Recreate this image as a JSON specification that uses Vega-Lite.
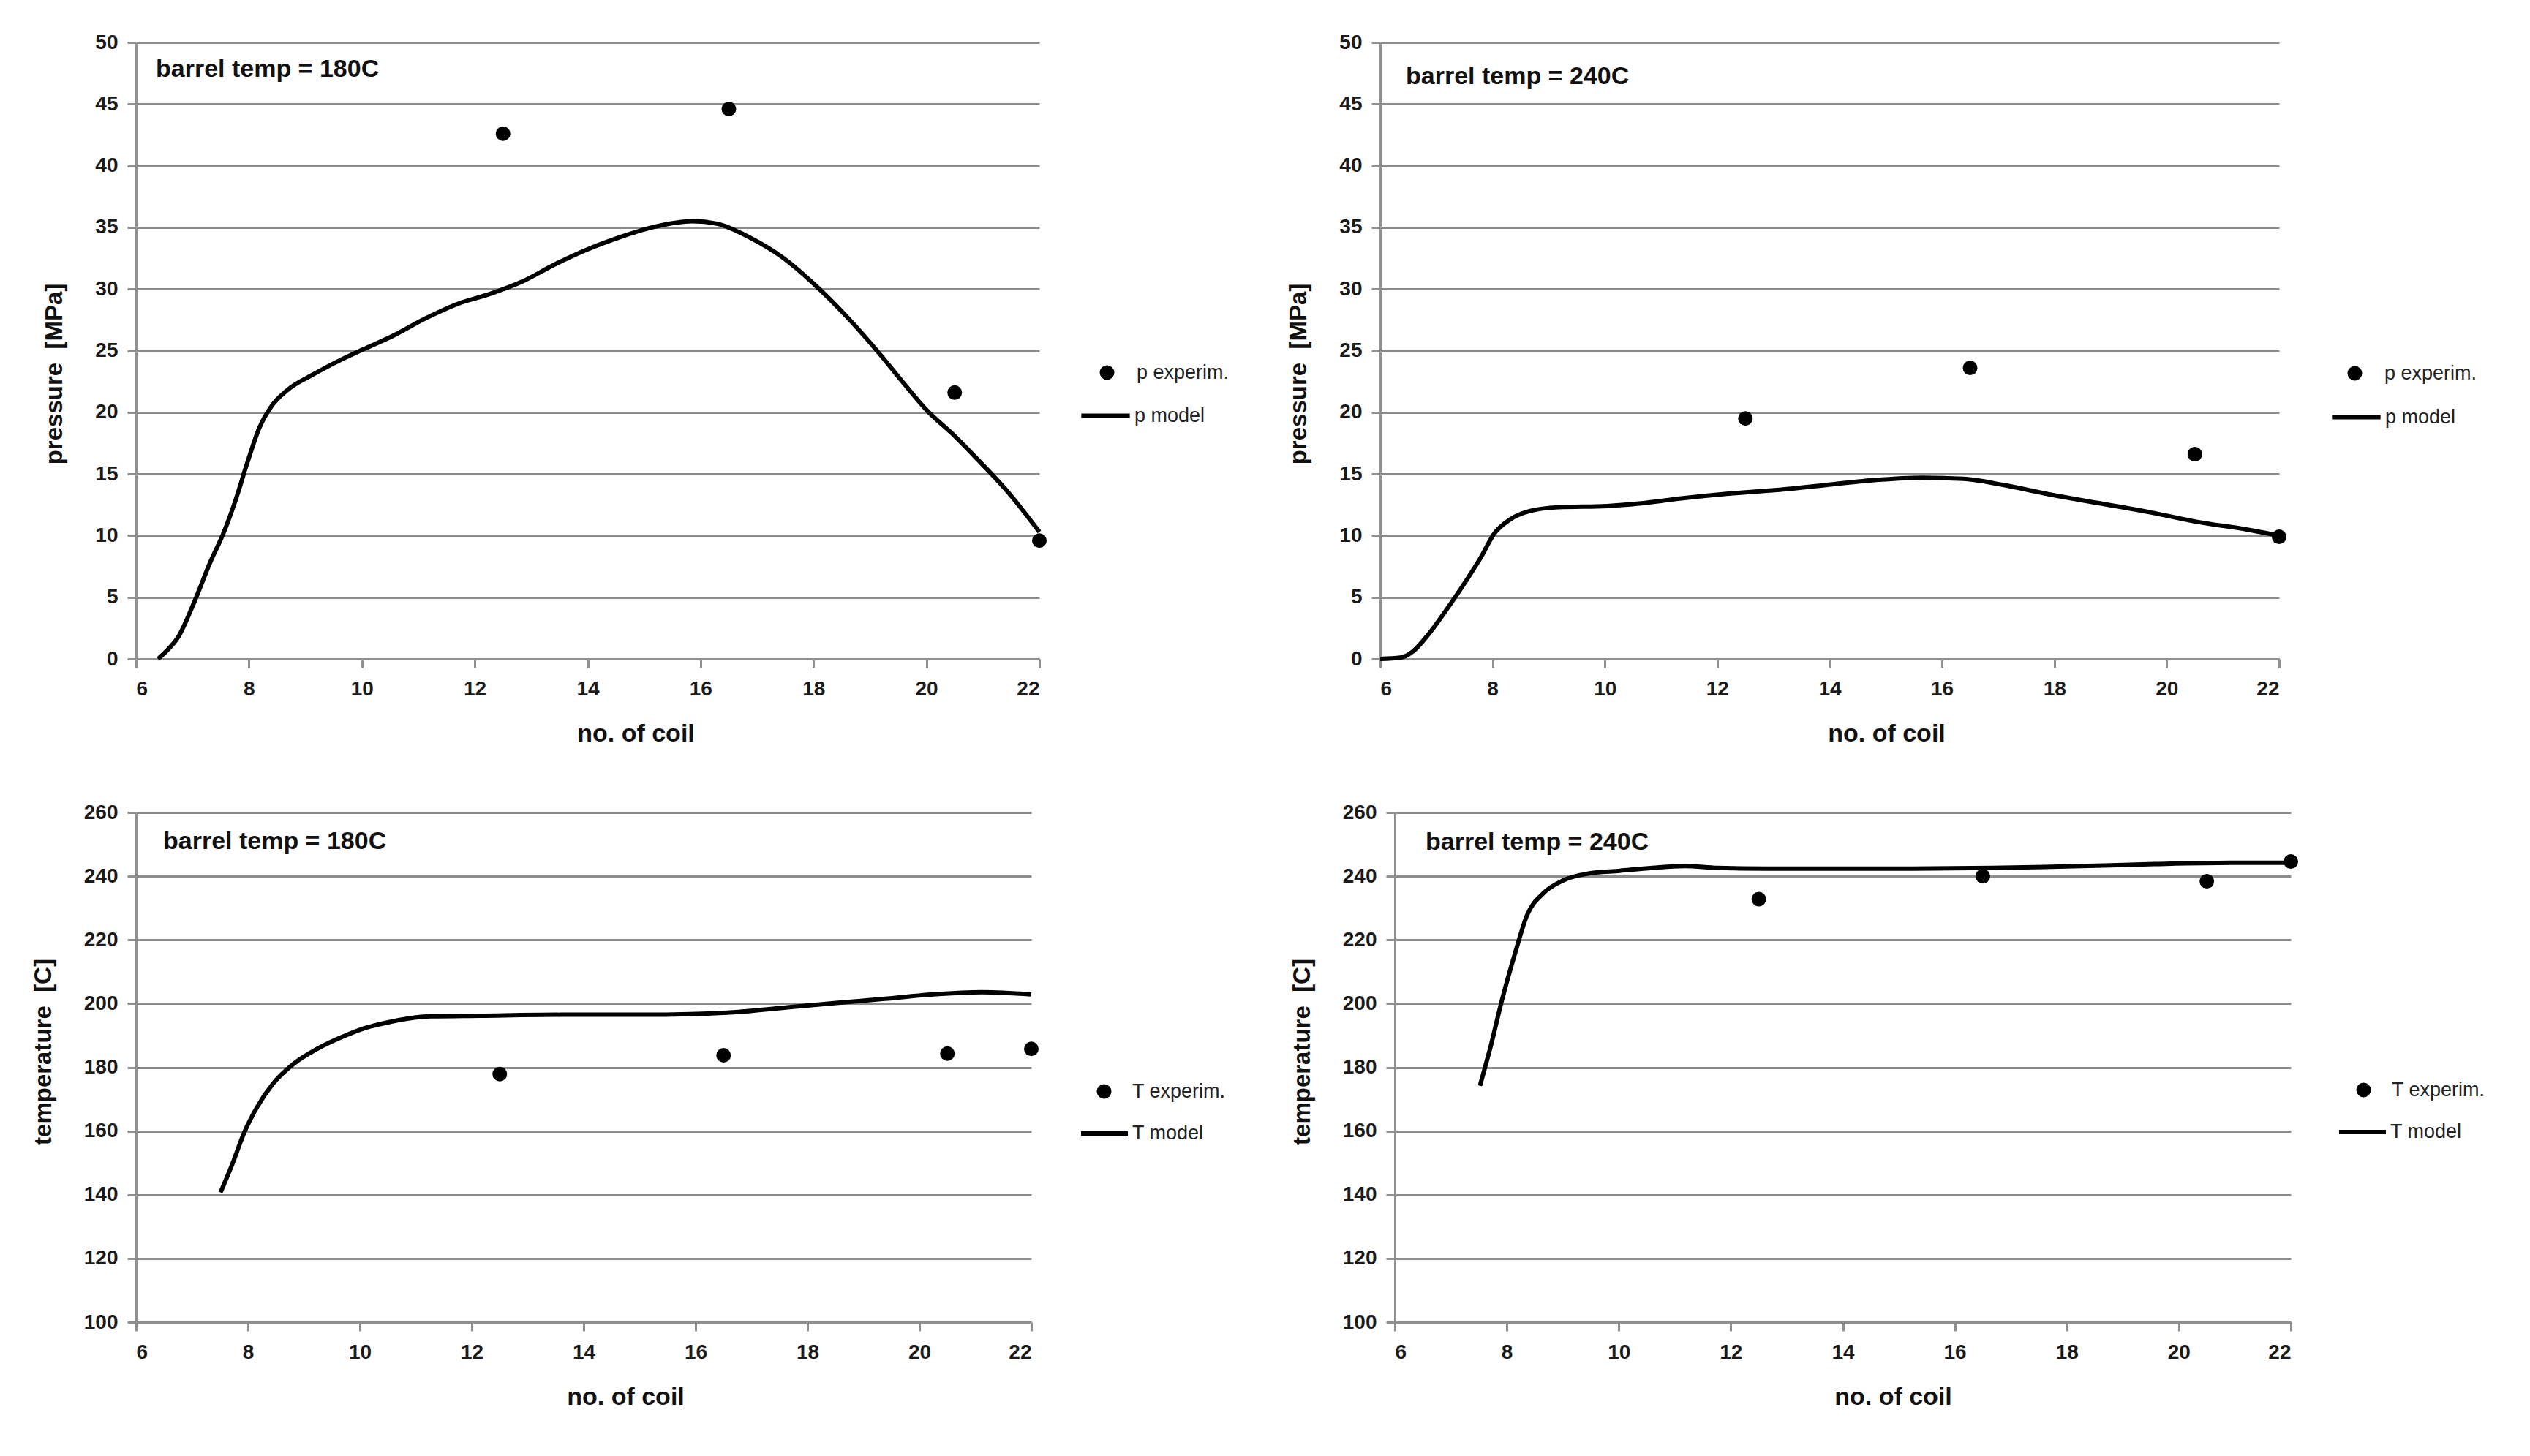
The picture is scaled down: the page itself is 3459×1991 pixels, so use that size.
{
  "$schema": "https://vega.github.io/schema/vega-lite/v6.json",
  "background": "white",
  "padding": {"left": 43, "top": 44, "right": 10, "bottom": 10},
  "spacing": 77,
  "align": "none",
  "resolve": {"scale": {"shape": "independent", "color": "independent"}, "legend": {"shape": "independent", "color": "independent"}},
  "config": {
    "view": {"stroke": null},
    "font": "Liberation Sans",
    "axis": {
      "labelFont": "Liberation Sans", "labelFontSize": 28, "labelFontWeight": "bold", "labelColor": "#1a1a1a",
      "titleFont": "Liberation Sans", "titleFontWeight": "bold", "titleFontSize": 33, "titleColor": "#111111",
      "domainColor": "#909090", "domainWidth": 3,
      "tickColor": "#909090", "tickWidth": 3, "tickSize": 12,
      "gridColor": "#8c8c8c", "gridWidth": 3, "gridOpacity": 1
    },
    "axisX": {"labelPadding": 15, "titlePadding": 30, "grid": false, "titleFontSize": 34},
    "axisY": {"labelPadding": 13, "titlePadding": 38, "grid": true},
    "legend": {
      "title": null, "labelFont": "Liberation Sans", "labelFontSize": 27, "labelColor": "#222222",
      "padding": 0, "rowPadding": 0
    },
    "title": {"font": "Liberation Sans", "fontSize": 34, "fontWeight": "bold", "color": "#111111"}
  },
  "datasets": {
    "p180": [
      {"coil": 6.39, "value": 0, "series": "p model"},
      {"coil": 6.53, "value": 0.6, "series": "p model"},
      {"coil": 6.75, "value": 1.8, "series": "p model"},
      {"coil": 7.03, "value": 4.6, "series": "p model"},
      {"coil": 7.32, "value": 7.9, "series": "p model"},
      {"coil": 7.54, "value": 10.1, "series": "p model"},
      {"coil": 7.75, "value": 12.7, "series": "p model"},
      {"coil": 7.97, "value": 15.9, "series": "p model"},
      {"coil": 8.18, "value": 18.7, "series": "p model"},
      {"coil": 8.40, "value": 20.5, "series": "p model"},
      {"coil": 8.68, "value": 21.8, "series": "p model"},
      {"coil": 9.11, "value": 23.0, "series": "p model"},
      {"coil": 9.69, "value": 24.4, "series": "p model"},
      {"coil": 10.02, "value": 25.1, "series": "p model"},
      {"coil": 10.55, "value": 26.2, "series": "p model"},
      {"coil": 11.12, "value": 27.6, "series": "p model"},
      {"coil": 11.70, "value": 28.8, "series": "p model"},
      {"coil": 12.27, "value": 29.6, "series": "p model"},
      {"coil": 12.84, "value": 30.6, "series": "p model"},
      {"coil": 13.42, "value": 32.0, "series": "p model"},
      {"coil": 13.99, "value": 33.2, "series": "p model"},
      {"coil": 14.57, "value": 34.2, "series": "p model"},
      {"coil": 15.14, "value": 35.0, "series": "p model"},
      {"coil": 15.86, "value": 35.5, "series": "p model"},
      {"coil": 16.29, "value": 35.3, "series": "p model"},
      {"coil": 16.86, "value": 34.2, "series": "p model"},
      {"coil": 17.44, "value": 32.6, "series": "p model"},
      {"coil": 18.01, "value": 30.4, "series": "p model"},
      {"coil": 18.58, "value": 27.8, "series": "p model"},
      {"coil": 19.16, "value": 24.8, "series": "p model"},
      {"coil": 19.59, "value": 22.4, "series": "p model"},
      {"coil": 20.02, "value": 20.1, "series": "p model"},
      {"coil": 20.45, "value": 18.3, "series": "p model"},
      {"coil": 20.88, "value": 16.3, "series": "p model"},
      {"coil": 21.45, "value": 13.5, "series": "p model"},
      {"coil": 22.0, "value": 10.3, "series": "p model"},
      {"coil": 12.5, "value": 42.6, "series": "p experim."},
      {"coil": 16.5, "value": 44.6, "series": "p experim."},
      {"coil": 20.5, "value": 21.6, "series": "p experim."},
      {"coil": 22.0, "value": 9.6, "series": "p experim."}
    ],
    "p240": [
      {"coil": 6.0, "value": 0, "series": "p model"},
      {"coil": 6.36, "value": 0.1, "series": "p model"},
      {"coil": 6.58, "value": 0.6, "series": "p model"},
      {"coil": 6.86, "value": 2.0, "series": "p model"},
      {"coil": 7.15, "value": 3.8, "series": "p model"},
      {"coil": 7.51, "value": 6.2, "series": "p model"},
      {"coil": 7.80, "value": 8.3, "series": "p model"},
      {"coil": 8.02, "value": 10.1, "series": "p model"},
      {"coil": 8.31, "value": 11.3, "series": "p model"},
      {"coil": 8.67, "value": 12.0, "series": "p model"},
      {"coil": 9.17, "value": 12.3, "series": "p model"},
      {"coil": 10.04, "value": 12.4, "series": "p model"},
      {"coil": 10.61, "value": 12.6, "series": "p model"},
      {"coil": 11.33, "value": 13.0, "series": "p model"},
      {"coil": 12.20, "value": 13.4, "series": "p model"},
      {"coil": 13.06, "value": 13.7, "series": "p model"},
      {"coil": 13.93, "value": 14.1, "series": "p model"},
      {"coil": 14.79, "value": 14.5, "series": "p model"},
      {"coil": 15.66, "value": 14.7, "series": "p model"},
      {"coil": 16.38, "value": 14.6, "series": "p model"},
      {"coil": 17.10, "value": 14.1, "series": "p model"},
      {"coil": 17.96, "value": 13.3, "series": "p model"},
      {"coil": 18.83, "value": 12.6, "series": "p model"},
      {"coil": 19.69, "value": 11.9, "series": "p model"},
      {"coil": 20.56, "value": 11.1, "series": "p model"},
      {"coil": 21.42, "value": 10.5, "series": "p model"},
      {"coil": 22.0, "value": 10.0, "series": "p model"},
      {"coil": 12.5, "value": 19.5, "series": "p experim."},
      {"coil": 16.5, "value": 23.6, "series": "p experim."},
      {"coil": 20.5, "value": 16.6, "series": "p experim."},
      {"coil": 22.0, "value": 9.9, "series": "p experim."}
    ],
    "T180": [
      {"coil": 7.51, "value": 140.7, "series": "T model"},
      {"coil": 7.72, "value": 149.6, "series": "T model"},
      {"coil": 7.94, "value": 159.8, "series": "T model"},
      {"coil": 8.16, "value": 167.4, "series": "T model"},
      {"coil": 8.45, "value": 174.9, "series": "T model"},
      {"coil": 8.81, "value": 181.0, "series": "T model"},
      {"coil": 9.24, "value": 185.8, "series": "T model"},
      {"coil": 9.68, "value": 189.5, "series": "T model"},
      {"coil": 10.11, "value": 192.4, "series": "T model"},
      {"coil": 10.55, "value": 194.3, "series": "T model"},
      {"coil": 10.98, "value": 195.6, "series": "T model"},
      {"coil": 11.27, "value": 196.0, "series": "T model"},
      {"coil": 12.14, "value": 196.2, "series": "T model"},
      {"coil": 13.59, "value": 196.5, "series": "T model"},
      {"coil": 15.04, "value": 196.5, "series": "T model"},
      {"coil": 15.90, "value": 196.7, "series": "T model"},
      {"coil": 16.77, "value": 197.4, "series": "T model"},
      {"coil": 17.64, "value": 198.8, "series": "T model"},
      {"coil": 18.51, "value": 200.2, "series": "T model"},
      {"coil": 19.38, "value": 201.5, "series": "T model"},
      {"coil": 20.25, "value": 202.9, "series": "T model"},
      {"coil": 21.12, "value": 203.6, "series": "T model"},
      {"coil": 22.0, "value": 202.9, "series": "T model"},
      {"coil": 12.5, "value": 177.9, "series": "T experim."},
      {"coil": 16.5, "value": 183.8, "series": "T experim."},
      {"coil": 20.5, "value": 184.3, "series": "T experim."},
      {"coil": 22.0, "value": 185.8, "series": "T experim."}
    ],
    "T240": [
      {"coil": 7.52, "value": 174.2, "series": "T model"},
      {"coil": 7.71, "value": 186.5, "series": "T model"},
      {"coil": 7.92, "value": 201.6, "series": "T model"},
      {"coil": 8.14, "value": 215.4, "series": "T model"},
      {"coil": 8.36, "value": 227.7, "series": "T model"},
      {"coil": 8.65, "value": 234.6, "series": "T model"},
      {"coil": 9.01, "value": 238.7, "series": "T model"},
      {"coil": 9.44, "value": 240.8, "series": "T model"},
      {"coil": 10.02, "value": 241.7, "series": "T model"},
      {"coil": 10.60, "value": 242.6, "series": "T model"},
      {"coil": 11.18, "value": 243.2, "series": "T model"},
      {"coil": 11.76, "value": 242.6, "series": "T model"},
      {"coil": 12.63, "value": 242.4, "series": "T model"},
      {"coil": 13.78, "value": 242.4, "series": "T model"},
      {"coil": 15.23, "value": 242.4, "series": "T model"},
      {"coil": 16.68, "value": 242.6, "series": "T model"},
      {"coil": 18.12, "value": 243.1, "series": "T model"},
      {"coil": 19.57, "value": 243.8, "series": "T model"},
      {"coil": 21.02, "value": 244.2, "series": "T model"},
      {"coil": 22.0, "value": 244.2, "series": "T model"},
      {"coil": 12.5, "value": 232.8, "series": "T experim."},
      {"coil": 16.5, "value": 240.0, "series": "T experim."},
      {"coil": 20.5, "value": 238.4, "series": "T experim."},
      {"coil": 22.0, "value": 244.6, "series": "T experim."}
    ]
  },
  "vconcat": [
    {
      "spacing": 78,
      "resolve": {"scale": {"shape": "independent", "color": "independent"}, "legend": {"shape": "independent", "color": "independent"}},
      "hconcat": [
        {
          "width": 1235, "height": 843,
          "title": {"text": "barrel temp = 180C", "anchor": "start", "frame": "group", "orient": "top", "offset": -45, "dx": 27, "dy": 50, "baseline": "alphabetic"},
          "data": {"name": "p180"},
          "encoding": {
            "x": {"field": "coil", "type": "quantitative", "scale": {"domain": [6, 22], "nice": false, "zero": false},
                  "axis": {"title": "no. of coil", "values": [6, 8, 10, 12, 14, 16, 18, 20, 22], "titleX": 683}},
            "y": {"field": "value", "type": "quantitative", "scale": {"domain": [0, 50], "nice": false},
                  "axis": {"title": "pressure \u00a0[MPa]", "values": [0, 5, 10, 15, 20, 25, 30, 35, 40, 45, 50], "titleY": 453}}
          },
          "layer": [
            {"transform": [{"filter": "datum.series == 'p model'"}],
             "mark": {"type": "line", "interpolate": "monotone", "strokeWidth": 6},
             "encoding": {
               "color": {"field": "series", "type": "nominal", "scale": {"domain": ["p model"], "range": ["black"]},
                         "legend": {"orient": "none", "legendX": 1289, "legendY": 474, "symbolType": "stroke", "symbolSize": 4400, "symbolStrokeWidth": 6, "labelOffset": 3}}
             }},
            {"transform": [{"filter": "datum.series == 'p experim.'"}],
             "mark": {"type": "point", "filled": true, "color": "black", "size": 400, "opacity": 1},
             "encoding": {
               "shape": {"field": "series", "type": "nominal", "scale": {"domain": ["p experim."], "range": ["circle"]},
                         "legend": {"orient": "none", "legendX": 1314, "legendY": 438, "symbolSize": 400, "symbolFillColor": "black", "symbolOpacity": 1, "labelOffset": 27}}
             }}
          ]
        },
        {
          "width": 1229, "height": 843,
          "title": {"text": "barrel temp = 240C", "anchor": "start", "frame": "group", "orient": "top", "offset": -55, "dx": 35, "dy": 50, "baseline": "alphabetic"},
          "data": {"name": "p240"},
          "encoding": {
            "x": {"field": "coil", "type": "quantitative", "scale": {"domain": [6, 22], "nice": false, "zero": false},
                  "axis": {"title": "no. of coil", "values": [6, 8, 10, 12, 14, 16, 18, 20, 22], "titleX": 692}},
            "y": {"field": "value", "type": "quantitative", "scale": {"domain": [0, 50], "nice": false},
                  "axis": {"title": "pressure \u00a0[MPa]", "values": [0, 5, 10, 15, 20, 25, 30, 35, 40, 45, 50], "titleY": 453}}
          },
          "layer": [
            {"transform": [{"filter": "datum.series == 'p model'"}],
             "mark": {"type": "line", "interpolate": "monotone", "strokeWidth": 6},
             "encoding": {
               "color": {"field": "series", "type": "nominal", "scale": {"domain": ["p model"], "range": ["black"]},
                         "legend": {"orient": "none", "legendX": 1298, "legendY": 476, "symbolType": "stroke", "symbolSize": 4400, "symbolStrokeWidth": 6, "labelOffset": 3}}
             }},
            {"transform": [{"filter": "datum.series == 'p experim.'"}],
             "mark": {"type": "point", "filled": true, "color": "black", "size": 400, "opacity": 1},
             "encoding": {
               "shape": {"field": "series", "type": "nominal", "scale": {"domain": ["p experim."], "range": ["circle"]},
                         "legend": {"orient": "none", "legendX": 1319, "legendY": 439, "symbolSize": 400, "symbolFillColor": "black", "symbolOpacity": 1, "labelOffset": 27}}
             }}
          ]
        }
      ]
    },
    {
      "spacing": 88,
      "resolve": {"scale": {"shape": "independent", "color": "independent"}, "legend": {"shape": "independent", "color": "independent"}},
      "hconcat": [
        {
          "width": 1224, "height": 697,
          "title": {"text": "barrel temp = 180C", "anchor": "start", "frame": "group", "orient": "top", "offset": -48, "dx": 37, "dy": 50, "baseline": "alphabetic"},
          "data": {"name": "T180"},
          "encoding": {
            "x": {"field": "coil", "type": "quantitative", "scale": {"domain": [6, 22], "nice": false, "zero": false},
                  "axis": {"title": "no. of coil", "values": [6, 8, 10, 12, 14, 16, 18, 20, 22], "titleX": 669}},
            "y": {"field": "value", "type": "quantitative", "scale": {"domain": [100, 260], "nice": false, "zero": false},
                  "axis": {"title": "temperature \u00a0[C]", "values": [100, 120, 140, 160, 180, 200, 220, 240, 260], "titleY": 327}}
          },
          "layer": [
            {"transform": [{"filter": "datum.series == 'T model'"}],
             "mark": {"type": "line", "interpolate": "monotone", "strokeWidth": 6},
             "encoding": {
               "color": {"field": "series", "type": "nominal", "scale": {"domain": ["T model"], "range": ["black"]},
                         "legend": {"orient": "none", "legendX": 1289, "legendY": 404, "symbolType": "stroke", "symbolSize": 4096, "symbolStrokeWidth": 6, "labelOffset": 3}}
             }},
            {"transform": [{"filter": "datum.series == 'T experim.'"}],
             "mark": {"type": "point", "filled": true, "color": "black", "size": 400, "opacity": 1},
             "encoding": {
               "shape": {"field": "series", "type": "nominal", "scale": {"domain": ["T experim."], "range": ["circle"]},
                         "legend": {"orient": "none", "legendX": 1310, "legendY": 368, "symbolSize": 400, "symbolFillColor": "black", "symbolOpacity": 1, "labelOffset": 25}}
             }}
          ]
        },
        {
          "width": 1225, "height": 697,
          "title": {"text": "barrel temp = 240C", "anchor": "start", "frame": "group", "orient": "top", "offset": -49, "dx": 42, "dy": 50, "baseline": "alphabetic"},
          "data": {"name": "T240"},
          "encoding": {
            "x": {"field": "coil", "type": "quantitative", "scale": {"domain": [6, 22], "nice": false, "zero": false},
                  "axis": {"title": "no. of coil", "values": [6, 8, 10, 12, 14, 16, 18, 20, 22], "titleX": 681}},
            "y": {"field": "value", "type": "quantitative", "scale": {"domain": [100, 260], "nice": false, "zero": false},
                  "axis": {"title": "temperature \u00a0[C]", "values": [100, 120, 140, 160, 180, 200, 220, 240, 260], "titleY": 327}}
          },
          "layer": [
            {"transform": [{"filter": "datum.series == 'T model'"}],
             "mark": {"type": "line", "interpolate": "monotone", "strokeWidth": 6},
             "encoding": {
               "color": {"field": "series", "type": "nominal", "scale": {"domain": ["T model"], "range": ["black"]},
                         "legend": {"orient": "none", "legendX": 1288, "legendY": 402, "symbolType": "stroke", "symbolSize": 4096, "symbolStrokeWidth": 6, "labelOffset": 3}}
             }},
            {"transform": [{"filter": "datum.series == 'T experim.'"}],
             "mark": {"type": "point", "filled": true, "color": "black", "size": 400, "opacity": 1},
             "encoding": {
               "shape": {"field": "series", "type": "nominal", "scale": {"domain": ["T experim."], "range": ["circle"]},
                         "legend": {"orient": "none", "legendX": 1311, "legendY": 366, "symbolSize": 400, "symbolFillColor": "black", "symbolOpacity": 1, "labelOffset": 25}}
             }}
          ]
        }
      ]
    }
  ]
}
